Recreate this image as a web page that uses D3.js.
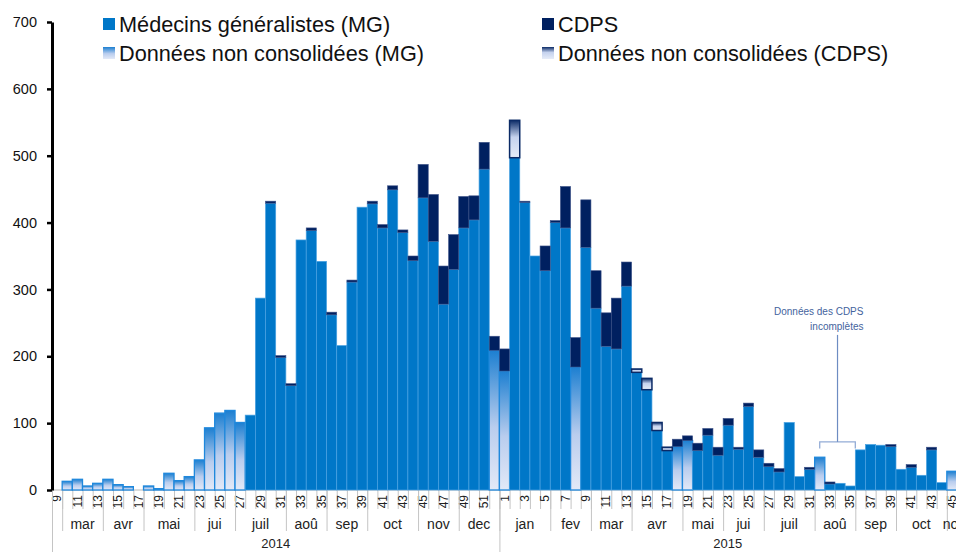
<!DOCTYPE html>
<html lang="fr">
<head>
  <meta charset="UTF-8" />
  <script src="https://d3js.org/d3.v7.min.js"></script>
  <title>MG et CDPS par semaine</title>
  <style>
    body { margin: 0; background: #fff; }
    svg text { font-family: "Liberation Sans", Arial, sans-serif; }
  </style>
</head>
<body>
  <div id="chart"></div>
  <script>
    // weeks shown on the axis
    const weeks2014 = [9, 10, 11, 12, 13, 14, 15, 16, 17, 18, 19, 20, 21, 22, 23, 24, 25, 26, 27, 28, 29, 30,
      31, 32, 33, 34, 35, 36, 37, 38, 39, 40, 41, 42, 43, 44, 45, 46, 47, 48, 49, 50, 51, 52];
    const weeks2015 = [1, 2, 3, 4, 5, 6, 7, 8, 9, 10, 11, 12, 13, 14, 15, 16, 17, 18, 19, 20, 21, 22, 23,
      24, 25, 26, 27, 28, 29, 30, 31, 32, 33, 34, 35, 36, 37, 38, 39, 40, 41, 42, 43, 44, 45];

    // médecins généralistes
    const mg2014 = [0, 13, 16, 6, 10, 16, 8, 5, 0, 6, 2, 25, 14, 20, 45, 93, 115, 119, 101, 112, 287, 429,
      198, 156, 374, 388, 342, 262, 216, 311, 423, 428, 392, 449, 385, 343, 437, 372, 278, 330, 392, 404, 480, 209];
    const mg2015 = [178, 497, 430, 350, 328, 400, 392, 184, 363, 272, 215, 211, 305, 176, 150, 89, 59, 65, 74,
      59, 82, 52, 97, 61, 125, 49, 35, 27, 101, 20, 31, 49, 9, 10, 6, 60, 68, 67, 65, 31, 34, 22, 60, 11, 28];

    // CDPS
    const cdps2014 = [0, 0, 0, 0, 0, 0, 0, 0, 0, 0, 0, 0, 0, 0, 0, 0, 0, 0, 0, 0, 0, 3,
      3, 3, 0, 4, 0, 4, 0, 3, 0, 4, 5, 6, 4, 7, 50, 70, 57, 52, 47, 36, 40, 21];
    const cdps2015 = [33, 56, 2, 0, 37, 3, 62, 44, 71, 56, 50, 76, 36, 5, 17, 12, 5, 11, 7,
      11, 10, 12, 10, 3, 5, 11, 5, 5, 0, 0, 3, 0, 3, 0, 0, 0, 0, 0, 3, 0, 4, 0, 4, 0, 0];

    // données non consolidées
    const mgProvisional2014 = [10, 11, 12, 13, 14, 15, 16, 18, 19, 20, 21, 22, 23, 24, 25, 26, 27, 52];
    const mgProvisional2015 = [1, 8, 18, 19, 32, 45];
    const cdpsProvisional2015 = [2, 14, 15, 16, 17];

    // months (first and last week of each)
    const months2014 = [["", 9, 9], ["mar", 10, 13], ["avr", 14, 17], ["mai", 18, 22], ["jui", 23, 26],
      ["juil", 27, 31], ["aoû", 32, 35], ["sep", 36, 39], ["oct", 40, 44], ["nov", 45, 48], ["dec", 49, 52]];
    const months2015 = [["jan", 1, 5], ["fev", 6, 9], ["mar", 10, 13], ["avr", 14, 18], ["mai", 19, 22],
      ["jui", 23, 26], ["juil", 27, 31], ["aoû", 32, 35], ["sep", 36, 39], ["oct", 40, 44], ["nov", 45, 48]];

    const yTicks = [0, 100, 200, 300, 400, 500, 600, 700];

    const key = (yr, w) => yr + "-" + w;
    const rows = [];
    weeks2014.forEach((w, i) => rows.push({
      year: 2014, week: w, key: key(2014, w), mg: mg2014[i], cdps: cdps2014[i],
      mgProv: mgProvisional2014.includes(w), cdpsProv: false
    }));
    weeks2015.forEach((w, i) => rows.push({
      year: 2015, week: w, key: key(2015, w), mg: mg2015[i], cdps: cdps2015[i],
      mgProv: mgProvisional2015.includes(w), cdpsProv: cdpsProvisional2015.includes(w)
    }));

    const width = 956, height = 552;
    const plotLeft = 52, plotBottom = 490, plotTop = 22;

    const svg = d3.select("#chart").append("svg")
      .attr("width", width)
      .attr("height", height);

    const defs = svg.append("defs");
    const mgGrad = defs.append("linearGradient").attr("id", "mgGrad")
      .attr("x1", 0).attr("y1", 0).attr("x2", 0).attr("y2", 1);
    mgGrad.append("stop").attr("offset", "0%").attr("stop-color", "#1c7fd1");
    mgGrad.append("stop").attr("offset", "55%").attr("stop-color", "#b9cdee");
    mgGrad.append("stop").attr("offset", "100%").attr("stop-color", "#e3e9f7");
    const cdpsGrad = defs.append("linearGradient").attr("id", "cdpsGrad")
      .attr("x1", 0).attr("y1", 0).attr("x2", 0).attr("y2", 1);
    cdpsGrad.append("stop").attr("offset", "0%").attr("stop-color", "#0b2a66");
    cdpsGrad.append("stop").attr("offset", "45%").attr("stop-color", "#c5d2ee");
    cdpsGrad.append("stop").attr("offset", "100%").attr("stop-color", "#e6ecf8");

    const x = d3.scaleBand()
      .domain(rows.map(d => d.key))
      .range([plotLeft, 957])
      .padding(0);
    const bw = x.bandwidth();

    const y = d3.scaleLinear()
      .domain([0, 700])
      .range([plotBottom, plotTop]);

    // x axis guide lines
    const axisG = svg.append("g");
    axisG.append("line")
      .attr("x1", plotLeft).attr("x2", width)
      .attr("y1", plotBottom).attr("y2", plotBottom)
      .attr("stroke", "#b8b8b8");

    axisG.selectAll(".wtick")
      .data(rows)
      .enter().append("line")
      .attr("x1", d => x(d.key) + 0.5).attr("x2", d => x(d.key) + 0.5)
      .attr("y1", plotBottom).attr("y2", plotBottom + 19)
      .attr("stroke", "#c4c4c4");

    axisG.selectAll(".wlabel")
      .data(rows.filter(d => d.week % 2 === 1))
      .enter().append("text")
      .attr("transform", d => `translate(${x(d.key) + bw / 2},${plotBottom + 5}) rotate(-90)`)
      .attr("dy", "0.35em")
      .attr("text-anchor", "end")
      .attr("font-size", "12px")
      .attr("fill", "#222")
      .text(d => d.week);

    const monthRows = months2014.map(m => ({ year: 2014, name: m[0], from: m[1], to: m[2] }))
      .concat(months2015.map(m => ({ year: 2015, name: m[0], from: m[1], to: m[2] })));

    monthRows.forEach(m => {
      const x0 = x(key(m.year, m.from));
      const toKey = key(m.year, m.to);
      const x1 = x.domain().includes(toKey) ? x(toKey) + bw : width + 5;
      axisG.append("line")
        .attr("x1", x0 + 0.5).attr("x2", x0 + 0.5)
        .attr("y1", plotBottom).attr("y2", plotBottom + 41)
        .attr("stroke", "#c4c4c4");
      axisG.append("text")
        .attr("x", (x0 + x1) / 2)
        .attr("y", plotBottom + 39)
        .attr("text-anchor", "middle")
        .attr("font-size", "14px")
        .attr("fill", "#222")
        .text(m.name);
    });

    [2014, 2015].forEach((yr, i) => {
      const ws = i === 0 ? weeks2014 : weeks2015;
      const x0 = x(key(yr, ws[0]));
      const x1 = i === 0 ? x(key(2015, 1)) : width;
      axisG.append("line")
        .attr("x1", x0 + 0.5).attr("x2", x0 + 0.5)
        .attr("y1", plotBottom).attr("y2", height)
        .attr("stroke", "#c4c4c4");
      axisG.append("text")
        .attr("x", (x0 + x1) / 2)
        .attr("y", plotBottom + 58)
        .attr("text-anchor", "middle")
        .attr("font-size", "13px")
        .attr("fill", "#222")
        .text(yr);
    });

    // bars
    const bars = svg.append("g");
    bars.selectAll(".mg")
      .data(rows.filter(d => d.mg > 0))
      .enter().append("rect")
      .attr("x", d => x(d.key))
      .attr("width", bw)
      .attr("y", d => y(d.mg))
      .attr("height", d => y(0) - y(d.mg))
      .attr("fill", d => d.mgProv ? "url(#mgGrad)" : "#0077c8")
      .attr("stroke", d => d.mgProv ? "#1f88dc" : "#4aa2e2")
      .attr("stroke-width", d => d.mgProv ? 1.3 : 0.7);

    bars.selectAll(".cdps")
      .data(rows.filter(d => d.cdps > 0))
      .enter().append("rect")
      .attr("x", d => x(d.key))
      .attr("width", bw)
      .attr("y", d => y(d.mg + d.cdps))
      .attr("height", d => y(d.mg) - y(d.mg + d.cdps))
      .attr("fill", d => d.cdpsProv ? "url(#cdpsGrad)" : "#002060")
      .attr("stroke", d => d.cdpsProv ? "#0b2a66" : "#3d5288")
      .attr("stroke-width", d => d.cdpsProv ? 1.5 : 0.6);

    // y axis
    const yAxis = svg.append("g")
      .attr("transform", `translate(${plotLeft},0)`)
      .call(d3.axisLeft(y).tickValues(yTicks).tickSize(5).tickPadding(10).tickSizeOuter(0));
    yAxis.select(".domain").attr("stroke", "#000").attr("stroke-width", 3);
    yAxis.selectAll(".tick line").attr("stroke", "#000").attr("stroke-width", 2.5);
    yAxis.selectAll(".tick text")
      .attr("font-size", "14.5px")
      .attr("fill", "#111")
      .attr("font-family", "Liberation Sans, Arial, sans-serif");

    // annotation: Données des CDPS incomplètes
    const ann = svg.append("g");
    const bx0 = x(key(2015, 32)) + bw / 2;
    const bx1 = x(key(2015, 36));
    const bxm = (bx0 + bx1) / 2;
    ann.append("path")
      .attr("d", `M${bx0},${y(62)} L${bx0},${y(72)} L${bx1},${y(72)} L${bx1},${y(62)}`)
      .attr("fill", "none")
      .attr("stroke", "#93acd6")
      .attr("stroke-width", 1.3);
    ann.append("line")
      .attr("x1", bxm).attr("x2", bxm)
      .attr("y1", y(72)).attr("y2", y(232))
      .attr("stroke", "#6d8cc2")
      .attr("stroke-width", 1.2);
    const annX = x(key(2015, 36)) + bw - 2;
    ann.append("text")
      .attr("x", annX).attr("y", y(262))
      .attr("text-anchor", "end")
      .attr("font-size", "10px")
      .attr("font-family", "Lato, 'Open Sans', sans-serif")
      .attr("fill", "#44639d")
      .text("Données des CDPS");
    ann.append("text")
      .attr("x", annX).attr("y", y(240))
      .attr("text-anchor", "end")
      .attr("font-size", "10px")
      .attr("font-family", "Lato, 'Open Sans', sans-serif")
      .attr("fill", "#44639d")
      .text("incomplètes");

    // legend
    const legendItems = [
      { label: "Médecins généralistes (MG)", fill: "#0077c8", lx: 103, ly: 18 },
      { label: "Données non consolidées (MG)", fill: "url(#mgGrad)", lx: 103, ly: 47 },
      { label: "CDPS", fill: "#002060", lx: 542, ly: 18 },
      { label: "Données non consolidées (CDPS)", fill: "url(#cdpsGrad)", lx: 542, ly: 47 }
    ];
    const legend = svg.append("g");
    legendItems.forEach(it => {
      legend.append("rect")
        .attr("x", it.lx).attr("y", it.ly)
        .attr("width", 12).attr("height", 12)
        .attr("fill", it.fill);
      legend.append("text")
        .attr("x", it.lx + 16).attr("y", it.ly + 14)
        .attr("font-size", "21.7px")
        .attr("fill", "#111")
        .text(it.label);
    });
  </script>
</body>
</html>
